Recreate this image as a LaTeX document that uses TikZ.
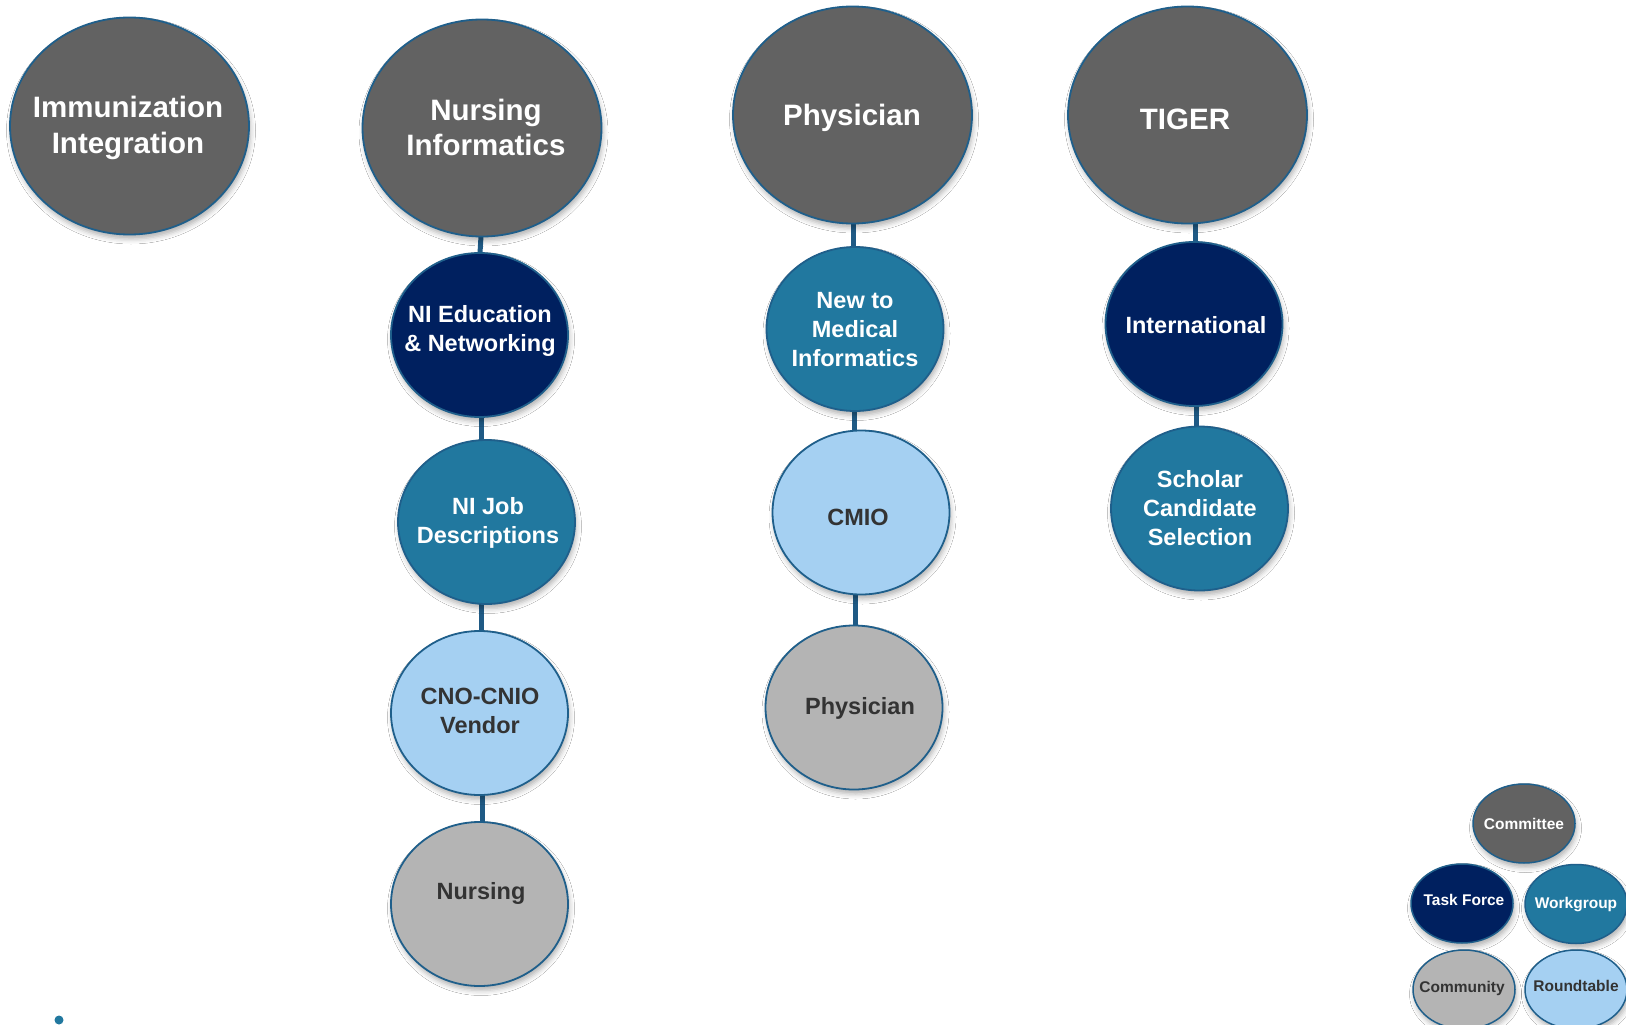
\documentclass[tikz,border=0pt]{standalone}
\usepackage{fontspec}
\setmainfont{Liberation Sans}
\usetikzlibrary{shapes.geometric,shadows.blur}
\definecolor{cdgrey}{HTML}{626262}
\definecolor{cnavy}{HTML}{00205F}
\definecolor{cteal}{HTML}{21789F}
\definecolor{clblue}{HTML}{A5D0F2}
\definecolor{clgrey}{HTML}{B4B4B4}
\definecolor{cborder}{HTML}{1F5F8B}
\definecolor{cconn}{HTML}{1F5A85}
\definecolor{ctxt}{HTML}{333333}
\tikzset{
  bub/.style={ellipse, draw=cborder, line width=1.8pt, inner sep=0pt,
    blur shadow={shadow xshift=1.5pt, shadow yshift=-4.5pt, shadow blur radius=5pt, shadow opacity=30}},
  big/.style={bub, minimum width=239pt, minimum height=217pt},
  small/.style={bub, minimum width=177pt, minimum height=164pt},
  leg/.style={bub, line width=1.5pt, minimum width=102pt, minimum height=79pt},
  bigtxt/.style={align=center, font=\fontsize{29.5}{35.5}\selectfont\bfseries, text=white},
  smalltxt/.style={align=center, font=\fontsize{23.5}{29}\selectfont\bfseries},
  legtxt/.style={align=center, font=\fontsize{15.5}{18}\selectfont\bfseries},
  conn/.style={draw=cconn, line width=5pt}
}
\begin{document}
\begin{tikzpicture}[x=1pt,y=-1pt]
\useasboundingbox[fill=white] (0,0) rectangle (1626,1025);
% connectors (background)
\coordinate (niTop) at (481,236);
\coordinate (niA) at (480,253);
\coordinate (niB) at (481,417);
\coordinate (niC) at (481,440);
\coordinate (niD) at (481,604);
\coordinate (niE) at (481,632);
\coordinate (niF) at (482,794);
\coordinate (niG) at (482,823);
\draw[conn] (niTop) -- (niA);
\draw[conn] (niB) -- (niC);
\draw[conn] (niD) -- (niE);
\draw[conn] (niF) -- (niG);
\coordinate (phA) at (853,222);
\coordinate (phB) at (853,249);
\coordinate (phC) at (854,409);
\coordinate (phD) at (854,433);
\coordinate (phE) at (855,592);
\coordinate (phF) at (855,628);
\draw[conn] (phA) -- (phB);
\draw[conn] (phC) -- (phD);
\draw[conn] (phE) -- (phF);
\coordinate (tgA) at (1195,222);
\coordinate (tgB) at (1195,245);
\coordinate (tgC) at (1196,403);
\coordinate (tgD) at (1196,429);
\draw[conn] (tgA) -- (tgB);
\draw[conn] (tgC) -- (tgD);

% main committees
\node[big, fill=cdgrey] (imm) at (129.5,126) {};
\node[bigtxt] (immT) at (128,128) {Immunization\\Integration};
\node[big, fill=cdgrey] (ni) at (482,128) {};
\node[bigtxt] (niT) at (486,127.5) {Nursing\\Informatics};
\node[big, fill=cdgrey] (phy) at (852.5,115) {};
\node[bigtxt] (phyT) at (852,118) {Physician};
\node[big, fill=cdgrey] (tig) at (1187.5,115) {};
\node[bigtxt] (tigT) at (1185,119) {TIGER};

% nursing informatics column
\node[small, fill=cnavy] (nie) at (479.5,335) {};
\node[smalltxt, text=white] (nieT) at (480,330.5) {NI Education\\\& Networking};
\node[small, fill=cteal] (nij) at (486.5,522) {};
\node[smalltxt, text=white] (nijT) at (488,523) {NI Job\\Descriptions};
\node[small, fill=clblue] (cno) at (479.5,713) {};
\node[smalltxt, text=ctxt] (cnoT) at (480,711) {CNO-CNIO\\Vendor};
\node[small, fill=clgrey] (nur) at (479.5,904) {};
\node[smalltxt, text=ctxt] (nurT) at (481,893) {Nursing};

% physician column
\node[small, fill=cteal] (nmi) at (855,329) {};
\node[smalltxt, text=white] (nmiT) at (855,330) {New to\\Medical\\Informatics};
\node[small, fill=clblue] (cmio) at (861,512.5) {};
\node[smalltxt, text=ctxt] (cmioT) at (858,517) {CMIO};
\node[small, fill=clgrey] (phs) at (854,707.5) {};
\node[smalltxt, text=ctxt] (phsT) at (860,708) {Physician};

% TIGER column
\node[small, fill=cnavy] (int) at (1194,324) {};
\node[smalltxt, text=white] (intT) at (1196,325) {International};
\node[small, fill=cteal] (sch) at (1199.5,508.5) {};
\node[smalltxt, text=white] (schT) at (1200,508) {Scholar\\Candidate\\Selection};

% legend
\node[leg, fill=cdgrey] (lc) at (1524,823.5) {};
\node[legtxt, text=white] (lcT) at (1524,823.5) {Committee};
\node[leg, fill=cnavy] (lt) at (1462,903.5) {};
\node[legtxt, text=white] (ltT) at (1464,899.5) {Task Force};
\node[leg, fill=cteal] (lw) at (1576,904) {};
\node[legtxt, text=white] (lwT) at (1576,904.5) {Workgroup};
\node[leg, fill=clgrey] (lcm) at (1464,989.5) {};
\node[legtxt, text=ctxt] (lcmT) at (1462,988.5) {Community};
\node[leg, fill=clblue] (lr) at (1576,989.5) {};
\node[legtxt, text=ctxt] (lrT) at (1576,985.5) {Roundtable};

% small dot
\node[circle, fill=cteal, inner sep=0pt, minimum size=9pt] (dot) at (59,1020) {};
\end{tikzpicture}
\end{document}
